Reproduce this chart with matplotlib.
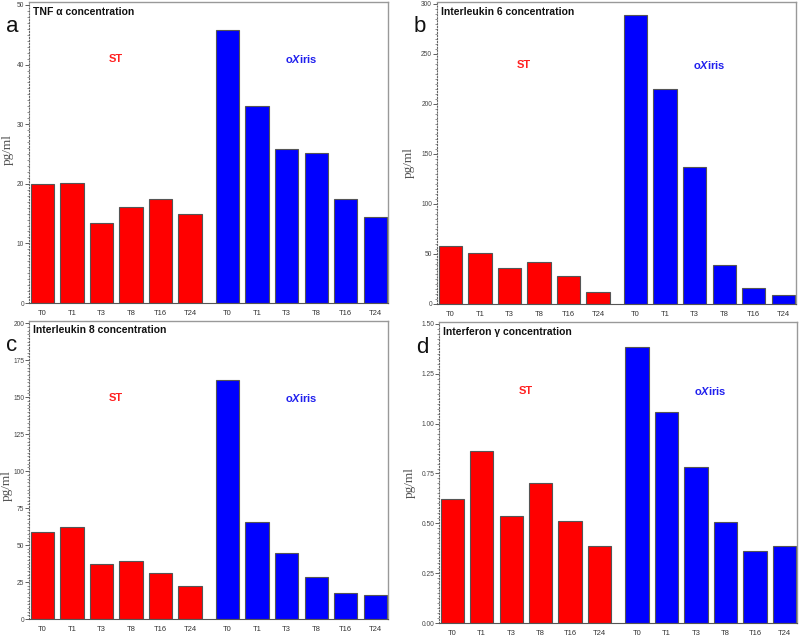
import numpy as np
import matplotlib
matplotlib.use('Agg')
import matplotlib.pyplot as plt
from matplotlib.ticker import AutoMinorLocator, FormatStrFormatter

plt.rcParams['font.family'] = ['Liberation Sans', 'DejaVu Sans']
plt.rcParams['mathtext.fontset'] = 'custom'
plt.rcParams['mathtext.bf'] = 'Liberation Sans:bold'
plt.rcParams['mathtext.it'] = 'Liberation Sans:italic:bold'

times = ['T0', 'T1', 'T3', 'T8', 'T16', 'T24']

tnf_st = [19.9, 20.1, 13.4, 16.1, 17.4, 14.9]
tnf_ox = [45.8, 33.1, 25.8, 25.1, 17.4, 14.4]

il6_st = [58.2, 50.5, 36.0, 42.0, 27.5, 12.0]
il6_ox = [289.0, 215.5, 137.0, 38.5, 15.5, 8.5]

il8_st = [58.8, 62.5, 37.2, 39.2, 30.8, 22.3]
il8_ox = [161.3, 65.5, 44.3, 28.3, 17.7, 16.3]

ifn_st = [0.62, 0.865, 0.535, 0.70, 0.51, 0.388]
ifn_ox = [1.385, 1.06, 0.785, 0.505, 0.363, 0.388]

# letter, title, ST, oXiris, ymax, step, fmt, box (l, r, t, b px), label height, ylabel pos px
panels = [
    ('a', 'TNF α concentration', tnf_st, tnf_ox, 50.5, 10, '%d', (29, 388, 2, 303), 0.81, (8, 150)),
    ('b', 'Interleukin 6 concentration', il6_st, il6_ox, 302, 50, '%d', (437, 796, 2, 304), 0.79, (409, 163)),
    ('c', 'Interleukin 8 concentration', il8_st, il8_ox, 201.5, 25, '%d', (29, 388, 321, 619), 0.74, (7, 486)),
    ('d', 'Interferon γ concentration', ifn_st, ifn_ox, 1.51, 0.25, '%.2f', (439, 797, 322, 623), 0.77, (410, 483)),
]

W, H = 800, 643
fig = plt.figure(figsize=(8, 6.43), dpi=100)

x_st = np.arange(6)
x_ox = np.arange(6) + 6.27
bw = 0.79

for letter, title, st, ox, ytop, step, fmt, box, ylab, lab_xy in panels:
    l, r, t, b = box
    ax = fig.add_axes([l / W, 1 - b / H, (r - l) / W, (b - t) / H])
    ax.bar(x_st, st, width=bw, color='#ff0000', edgecolor='#555555', linewidth=0.8)
    ax.bar(x_ox, ox, width=bw, color='#0000ff', edgecolor='#555555', linewidth=0.8)
    ax.set_xlim(-0.45, 11.7)
    ax.set_ylim(0, ytop)
    ax.set_yticks(np.arange(0, ytop, step))
    ax.yaxis.set_major_formatter(FormatStrFormatter(fmt))
    ax.yaxis.set_minor_locator(AutoMinorLocator(10))
    ax.set_xticks(np.concatenate([x_st, x_ox]))
    ax.set_xticklabels(times + times)
    ax.tick_params(axis='x', length=0, pad=5, labelsize=5.5, labelcolor='#333333')
    ax.tick_params(axis='y', which='major', length=3, width=0.6, pad=0.5,
                   labelsize=4.8, labelcolor='#444444', color='#444444')
    ax.tick_params(axis='y', which='minor', length=1.5, width=0.5, color='#666666')
    for s in ['top', 'right']:
        ax.spines[s].set_color('#999999')
        ax.spines[s].set_linewidth(1.0)
    ax.spines['bottom'].set_color('#555555')
    ax.spines['left'].set_color('#666666')
    ax.spines['left'].set_linestyle(':')
    ax.spines['left'].set_linewidth(0.8)

    ax.text(0.012, 0.985, title, transform=ax.transAxes, ha='left', va='top',
            fontsize=7.5, fontweight='bold', color='#111111')
    fig.text(lab_xy[0] / W, 1 - lab_xy[1] / H, 'pg/ml', rotation=90,
             ha='center', va='center', family=['Liberation Serif', 'DejaVu Serif'],
             fontsize=9.5, color='#555555')
    ax.text(2.5, ytop * ylab, 'ST', ha='center', va='center',
            fontsize=8, fontweight='bold', color='#ff2020')
    ax.text(8.75, ytop * ylab, r'$\mathbf{o}\mathit{X}\mathbf{iris}$', ha='center',
            va='center', fontsize=8, color='#2020ee')
    fig.text((l - 17) / W, 1 - (t + 25) / H, letter, ha='center', va='center',
             fontsize=16, color='#111111')

fig.savefig('out.png', dpi=100)
